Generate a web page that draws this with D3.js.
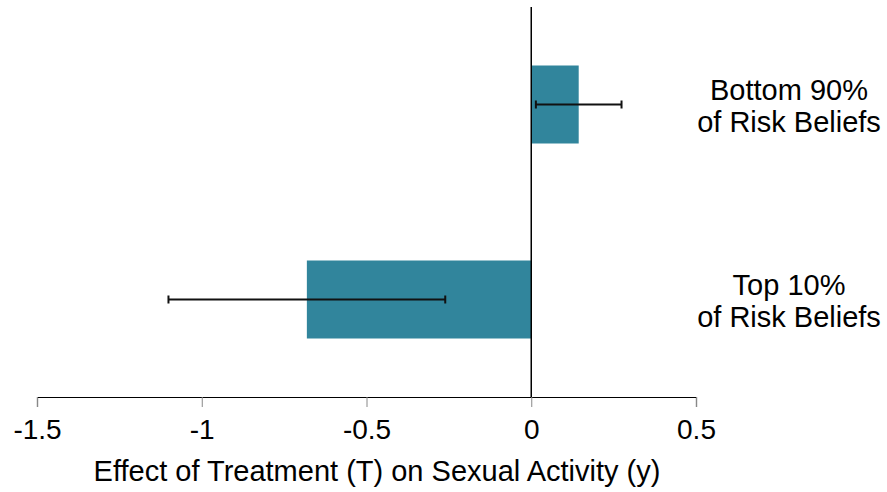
<!DOCTYPE html>
<html>
<head>
<meta charset="utf-8">
<script src="https://cdn.jsdelivr.net/npm/d3@7"></script>
<style>
  body { margin: 0; background: #fff; }
  svg text { font-family: "Liberation Sans", Arial, sans-serif; fill: #000; }
</style>
</head>
<body>
<div id="chart"></div>
<script>
// data
var groups = ["Bottom 90%", "Top 10%"];
var effects = [0.144, -0.681];
var ciLow = [0.014, -1.101];
var ciHigh = [0.274, -0.261];
var tickValues = [-1.5, -1, -0.5, 0, 0.5];
var xTitle = "Effect of Treatment (T) on Sexual Activity (y)";

var width = 887, height = 492;
var plot = {left: 37, right: 696, top: 7, bottom: 397};

var svg = d3.select("#chart").append("svg")
    .attr("width", width)
    .attr("height", height);

var x = d3.scaleLinear()
    .domain([-1.5, 0.5])
    .range([plot.left, plot.right]);

var y = d3.scaleBand()
    .domain(groups)
    .range([plot.top, plot.bottom])
    .paddingInner(0.6)
    .paddingOuter(0.3);

var data = groups.map(function(g, i) {
  return {group: g, value: effects[i], lo: ciLow[i], hi: ciHigh[i]};
});

// bars
svg.selectAll(".bar")
    .data(data)
  .enter().append("rect")
    .attr("class", "bar")
    .attr("x", function(d) { return x(Math.min(0, d.value)); })
    .attr("y", function(d) { return y(d.group); })
    .attr("width", function(d) { return Math.abs(x(d.value) - x(0)); })
    .attr("height", y.bandwidth())
    .attr("fill", "#31859c");

// x axis
var axis = svg.append("g")
    .attr("transform", "translate(0," + plot.bottom + ")")
    .call(d3.axisBottom(x).tickValues(tickValues).tickSize(10).tickPadding(12)
      .tickFormat(function(d) { return d3.format("")(d).replace("\u2212", "-"); }));
axis.select(".domain").attr("stroke", "#000").attr("stroke-width", 1.2);
axis.selectAll(".tick line").attr("stroke", "#888").attr("stroke-width", 1);
axis.selectAll(".tick text")
    .attr("fill", "#000")
    .style("font-size", "28px");

// zero line
svg.append("line")
    .attr("x1", x(0)).attr("x2", x(0))
    .attr("y1", plot.top).attr("y2", plot.bottom)
    .attr("stroke", "#000")
    .attr("stroke-width", 1.5);

// error bars
var err = svg.selectAll(".err")
    .data(data)
  .enter().append("g")
    .attr("class", "err")
    .attr("transform", function(d) { return "translate(0," + (y(d.group) + y.bandwidth() / 2) + ")"; });
err.append("line")
    .attr("x1", function(d) { return x(d.lo); })
    .attr("x2", function(d) { return x(d.hi); })
    .attr("stroke", "#111").attr("stroke-width", 2);
err.selectAll(".cap")
    .data(function(d) { return [d.lo, d.hi]; })
  .enter().append("line")
    .attr("x1", function(v) { return x(v); })
    .attr("x2", function(v) { return x(v); })
    .attr("y1", -4).attr("y2", 4)
    .attr("stroke", "#111").attr("stroke-width", 2);

// group labels on the right
var lab = svg.selectAll(".glabel")
    .data(data)
  .enter().append("text")
    .attr("class", "glabel")
    .attr("text-anchor", "middle")
    .attr("transform", function(d) { return "translate(789," + (y(d.group) + y.bandwidth() / 2) + ")"; })
    .style("font-size", "29px");
lab.append("tspan").attr("x", 0).attr("y", -5).text(function(d) { return d.group; });
lab.append("tspan").attr("x", 0).attr("y", 27).text("of Risk Beliefs");

// axis title
svg.append("text")
    .attr("x", 377)
    .attr("y", 481)
    .attr("text-anchor", "middle")
    .style("font-size", "29px")
    .text(xTitle);
</script>
</body>
</html>
